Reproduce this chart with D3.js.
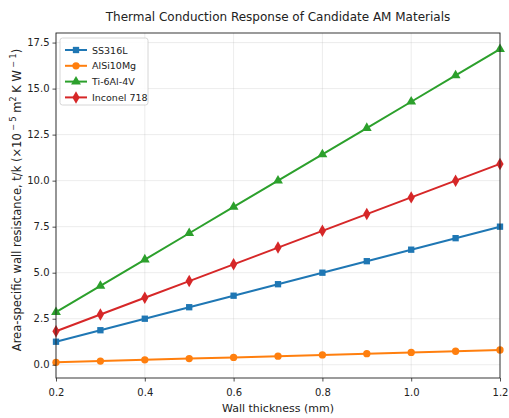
<!DOCTYPE html>
<html><head><meta charset="utf-8">
<script src="https://cdn.jsdelivr.net/npm/d3@7"></script>
<style>body{margin:0;background:#fff}svg{display:block;font-family:"DejaVu Sans",sans-serif}</style>
</head><body><svg id="c" width="509" height="418"></svg>
<script>
const thickness = [0.2,0.3,0.4,0.5,0.6,0.7,0.8,0.9,1.0,1.1,1.2];
const ss316l = [1.25,1.875,2.5,3.125,3.75,4.375,5.0,5.625,6.25,6.875,7.5];
const alsi10mg = [0.133,0.2,0.267,0.333,0.4,0.467,0.533,0.6,0.667,0.733,0.8];
const ti64 = [2.857,4.286,5.714,7.143,8.571,10.0,11.429,12.857,14.286,15.714,17.143];
const inconel = [1.818,2.727,3.636,4.545,5.455,6.364,7.273,8.182,9.091,10.0,10.909];
const seriesNames = ["SS316L","AlSi10Mg","Ti-6Al-4V","Inconel 718"];
const xTicks = [0.2,0.4,0.6,0.8,1.0,1.2];
const yTicks = [0,2.5,5,7.5,10,12.5,15,17.5];

const colors = ["#1f77b4","#ff7f0e","#2ca02c","#d62728"];
const symbols = [d3.symbolSquare, d3.symbolCircle, d3.symbolTriangle, d3.symbolDiamond];
const symSizes = [40, 42, 42, 45];
const seriesVals = [ss316l, alsi10mg, ti64, inconel];

const svg = d3.select("#c");
const L=56,R=500,T=33,B=378;
const x = d3.scaleLinear().domain([0.2,1.2]).range([L,R]);
const y = d3.scaleLinear().domain([-0.72,18.02]).range([B,T]);

// grid
const g = svg.append("g");
g.selectAll(".gx").data(xTicks).enter().append("line")
 .attr("x1",d=>x(d)).attr("x2",d=>x(d)).attr("y1",T).attr("y2",B)
 .attr("stroke","#b0b0b0").attr("stroke-opacity",0.3).attr("stroke-width",0.8);
g.selectAll(".gy").data(yTicks).enter().append("line")
 .attr("y1",d=>y(d)).attr("y2",d=>y(d)).attr("x1",L).attr("x2",R)
 .attr("stroke","#b0b0b0").attr("stroke-opacity",0.3).attr("stroke-width",0.8);

// series
const line = d3.line().x(d=>x(d[0])).y(d=>y(d[1]));
seriesVals.forEach((vals,i)=>{
  const pts = thickness.map((t,j)=>[t,vals[j]]);
  svg.append("path").datum(pts).attr("d",line).attr("fill","none")
    .attr("stroke",colors[i]).attr("stroke-width",2);
  svg.selectAll(".m"+i).data(pts).enter().append("path")
    .attr("transform",d=>`translate(${x(d[0])},${y(d[1])})`)
    .attr("d",d3.symbol().type(symbols[i]).size(symSizes[i]))
    .attr("fill",colors[i]);
});

// axes
const xa = svg.append("g").attr("transform",`translate(0,${B})`)
  .call(d3.axisBottom(x).tickValues(xTicks).tickFormat(d3.format(".1f")).tickSize(3.5).tickSizeOuter(0));
const ya = svg.append("g").attr("transform",`translate(${L},0)`)
  .call(d3.axisLeft(y).tickValues(yTicks).tickFormat(d3.format(".1f")).tickSize(3.5).tickSizeOuter(0));
[xa,ya].forEach(a=>{a.select(".domain").remove();
  a.selectAll("text").attr("font-size",10).attr("fill","#222").attr("font-family","DejaVu Sans");
  a.selectAll("line").attr("stroke","#222").attr("stroke-width",0.8);});
xa.selectAll("text").attr("dy","1.1em");
svg.append("rect").attr("x",L).attr("y",T).attr("width",R-L).attr("height",B-T)
  .attr("fill","none").attr("stroke","#222").attr("stroke-width",0.9);

// title and labels
svg.append("text").attr("x",(L+R)/2).attr("y",21).attr("text-anchor","middle")
  .attr("font-size",12).attr("fill","#222").text("Thermal Conduction Response of Candidate AM Materials");
svg.append("text").attr("x",(L+R)/2).attr("y",412).attr("text-anchor","middle")
  .attr("font-size",11).attr("fill","#222").text("Wall thickness (mm)");
const yl = svg.append("text").attr("transform",`translate(21,200) rotate(-90)`)
  .attr("text-anchor","middle").attr("font-size",11.5).attr("fill","#222");
yl.append("tspan").text("Area-specific wall resistance, t/k (×10");
yl.append("tspan").attr("font-size",8).attr("dy",-5).text(" − 5");
yl.append("tspan").attr("dy",5).text(" m");
yl.append("tspan").attr("font-size",8).attr("dy",-5).text("2");
yl.append("tspan").attr("dy",5).text(" K W");
yl.append("tspan").attr("font-size",8).attr("dy",-5).text(" − 1");
yl.append("tspan").attr("dy",5).text(")");

// legend
const lg = svg.append("g");
lg.append("rect").attr("x",60).attr("y",38).attr("width",88).attr("height",67).attr("rx",2.5)
  .attr("fill","#fff").attr("fill-opacity",0.85).attr("stroke","#ccc").attr("stroke-width",0.8);
seriesNames.forEach((n,i)=>{
  const yy = 50 + i*15.8;
  lg.append("line").attr("x1",65).attr("x2",87).attr("y1",yy).attr("y2",yy)
    .attr("stroke",colors[i]).attr("stroke-width",2);
  lg.append("path").attr("transform",`translate(76,${yy})`)
    .attr("d",d3.symbol().type(symbols[i]).size(symSizes[i])).attr("fill",colors[i]);
  lg.append("text").attr("x",92).attr("y",yy+3.5).attr("font-size",9.5).attr("fill","#222").text(n);
});
</script></body></html>
